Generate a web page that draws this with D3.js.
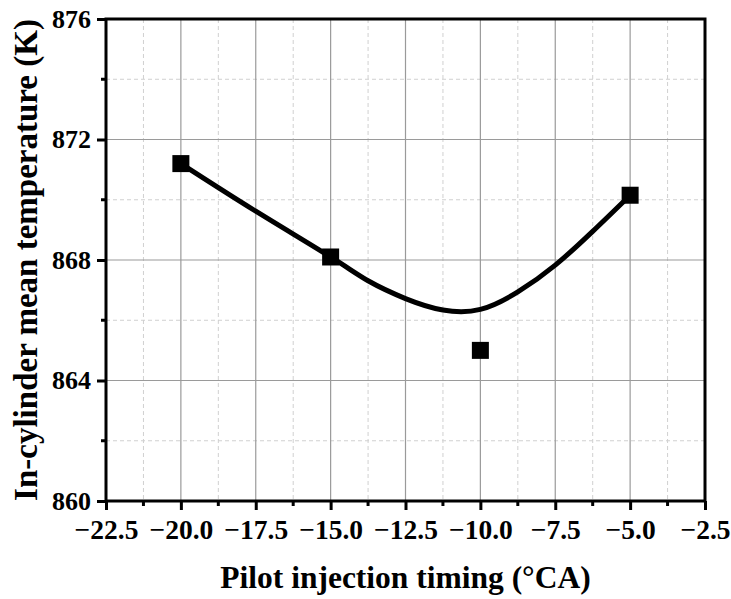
<!DOCTYPE html>
<html>
<head>
<meta charset="utf-8">
<script src="https://cdn.jsdelivr.net/npm/d3@7"></script>
<style>
  body { margin: 0; background: #fff; }
  text { font-family: "Liberation Serif", "Times New Roman", serif; font-weight: bold; }
</style>
</head>
<body>
<svg width="731" height="599"></svg>
<script>
const svg = d3.select('svg');

// Measured points
const timing = [-20, -15, -10, -5];
const temperature = [871.2, 868.1, 865.0, 870.15];

// Fitted curve
const curveX = [-20, -17.5, -15, -13.75, -12.5, -11.25, -10, -8.75, -7.5, -6.25, -5];
const curveY = [871.2, 869.62, 868.1, 867.31, 866.72, 866.34, 866.36, 866.94, 867.83, 868.95, 870.15];

const xTicks = [-22.5, -20, -17.5, -15, -12.5, -10, -7.5, -5, -2.5];
const xMinor = [-21.25, -18.75, -16.25, -13.75, -11.25, -8.75, -6.25, -3.75];
const yTicks = [860, 864, 868, 872, 876];
const yMinor = [862, 866, 870, 874];

const margin = { top: 19, right: 26, bottom: 98, left: 106 };
const width = 731, height = 599;
const innerWidth = width - margin.left - margin.right;
const innerHeight = height - margin.top - margin.bottom;

const xScale = d3.scaleLinear().domain([-22.5, -2.5]).range([0, innerWidth]);
const yScale = d3.scaleLinear().domain([860, 876]).range([innerHeight, 0]);

const g = svg.append('g').attr('transform', `translate(${margin.left},${margin.top})`);

// minor grid (dashed)
g.selectAll('.gx-minor').data(xMinor).enter().append('line')
  .attr('x1', d => xScale(d)).attr('x2', d => xScale(d))
  .attr('y1', 0).attr('y2', innerHeight)
  .attr('stroke', '#d0d0d0').attr('stroke-dasharray', '4,3');
g.selectAll('.gy-minor').data(yMinor).enter().append('line')
  .attr('y1', d => yScale(d)).attr('y2', d => yScale(d))
  .attr('x1', 0).attr('x2', innerWidth)
  .attr('stroke', '#d0d0d0').attr('stroke-dasharray', '4,3');

// major grid
g.selectAll('.gx').data(xTicks).enter().append('line')
  .attr('x1', d => xScale(d)).attr('x2', d => xScale(d))
  .attr('y1', 0).attr('y2', innerHeight)
  .attr('stroke', '#9a9a9a').attr('stroke-width', 1.2);
g.selectAll('.gy').data(yTicks).enter().append('line')
  .attr('y1', d => yScale(d)).attr('y2', d => yScale(d))
  .attr('x1', 0).attr('x2', innerWidth)
  .attr('stroke', '#9a9a9a').attr('stroke-width', 1.2);

// axes
const xAxis = d3.axisBottom(xScale).tickValues(xTicks).tickSize(9).tickPadding(9)
  .tickFormat(d3.format('.1f'));
const yAxis = d3.axisLeft(yScale).tickValues(yTicks).tickSize(9).tickPadding(6)
  .tickFormat(d3.format('d'));

const xAxisG = g.append('g').attr('transform', `translate(0,${innerHeight})`).call(xAxis);
const yAxisG = g.append('g').call(yAxis);
[xAxisG, yAxisG].forEach(a => {
  a.select('.domain').remove();
  a.selectAll('.tick line').attr('stroke', '#000').attr('stroke-width', 3);
  a.selectAll('.tick text').attr('fill', '#000');
});
xAxisG.selectAll('.tick text').style('font-size', '27.5px');
yAxisG.selectAll('.tick text').style('font-size', '26px');

// minor ticks
g.selectAll('.tx-minor').data(xMinor).enter().append('line')
  .attr('x1', d => xScale(d)).attr('x2', d => xScale(d))
  .attr('y1', innerHeight).attr('y2', innerHeight + 5)
  .attr('stroke', '#000').attr('stroke-width', 3);
g.selectAll('.ty-minor').data(yMinor).enter().append('line')
  .attr('y1', d => yScale(d)).attr('y2', d => yScale(d))
  .attr('x1', 0).attr('x2', -5)
  .attr('stroke', '#000').attr('stroke-width', 3);

// frame
g.append('rect')
  .attr('width', innerWidth).attr('height', innerHeight)
  .attr('fill', 'none').attr('stroke', '#000').attr('stroke-width', 3);

// fitted curve
const line = d3.line()
  .x(d => xScale(d[0]))
  .y(d => yScale(d[1]))
  .curve(d3.curveNatural);
g.append('path')
  .datum(d3.zip(curveX, curveY))
  .attr('d', line)
  .attr('fill', 'none').attr('stroke', '#000').attr('stroke-width', 5);

// square markers
const sq = 17;
g.selectAll('.pt').data(d3.zip(timing, temperature)).enter().append('rect')
  .attr('x', d => xScale(d[0]) - sq / 2)
  .attr('y', d => yScale(d[1]) - sq / 2)
  .attr('width', sq).attr('height', sq)
  .attr('fill', '#000');

// axis titles
svg.append('text')
  .attr('x', margin.left + innerWidth / 2)
  .attr('y', 588)
  .attr('text-anchor', 'middle')
  .style('font-size', '31.5px')
  .text('Pilot injection timing (°CA)');

svg.append('text')
  .attr('transform', `translate(37,${margin.top + innerHeight / 2}) rotate(-90)`)
  .attr('text-anchor', 'middle')
  .style('font-size', '33px')
  .text('In-cylinder mean temperature (K)');
</script>
</body>
</html>
